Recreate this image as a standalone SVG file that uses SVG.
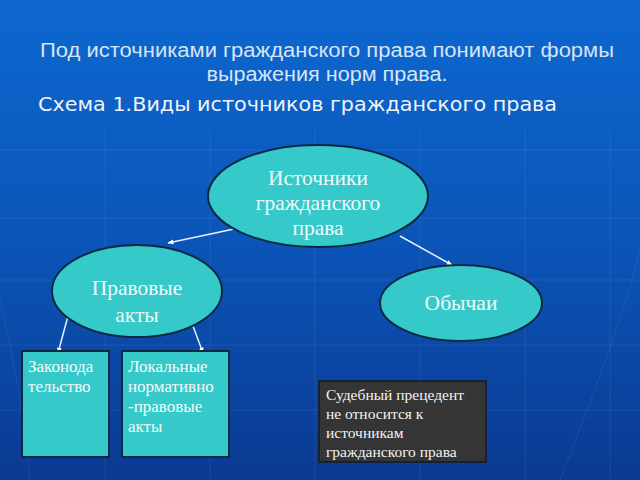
<svg xmlns="http://www.w3.org/2000/svg" width="640" height="480" viewBox="0 0 640 480">
<defs>
<linearGradient id="bg" x1="0" y1="0" x2="0" y2="1">
<stop offset="0" stop-color="#0d68d0"/>
<stop offset="0.5" stop-color="#0b55b8"/>
<stop offset="1" stop-color="#0a3a92"/>
</linearGradient>
<marker id="ah" viewBox="0 0 10 10" refX="9" refY="5" markerWidth="4" markerHeight="4" orient="auto">
<path d="M0,1 L10,5 L0,9 z" fill="#ffffff"/>
</marker>
<style>
.title{font-family:"Liberation Sans",Arial,sans-serif;fill:#d6e4f4;font-size:20px;}
.scheme{font-family:"DejaVu Sans",Verdana,sans-serif;fill:#f0f4fa;font-size:19px;}
.node{fill:#35c9c9;stroke:#0a2a44;stroke-width:2;}
.lbl{font-family:"Liberation Serif","Times New Roman",serif;fill:#eefafa;font-size:21.5px;text-anchor:middle;}
.box{fill:#35c9c9;stroke:#0a2a44;stroke-width:2;}
.btxt{font-family:"Liberation Serif","Times New Roman",serif;fill:#f4fbfb;font-size:17px;}
.dark{fill:#353535;stroke:#1a1a1a;stroke-width:1.5;}
.dtxt{font-family:"Liberation Serif","Times New Roman",serif;fill:#f2f2f2;font-size:15.5px;}
.con{stroke:#e8f0ff;stroke-width:1.5;fill:none;marker-end:url(#ah);}
.grid{stroke:#ffffff;stroke-opacity:0.07;stroke-width:1;fill:none;}
</style>
</defs>
<rect width="640" height="480" fill="url(#bg)"/>
<g class="grid">
<path d="M0 150 H640 M0 218 H640 M0 280 H640 M0 345 H640 M0 410 H640"/>
<path d="M105 130 V480 M210 130 V480 M315 130 V480 M420 130 V480 M525 130 V480 M610 130 V480"/>
<path d="M560 480 Q620 330 640 250"/>
<path d="M0 300 Q20 380 30 480"/>
</g>
<g id="header">
<text class="title" x="327" y="57" text-anchor="middle" textLength="574" lengthAdjust="spacingAndGlyphs">Под источниками гражданского права понимают формы</text>
<text class="title" x="327" y="81" text-anchor="middle" textLength="241" lengthAdjust="spacingAndGlyphs">выражения норм права.</text>
<text class="scheme" x="38" y="111" textLength="519" lengthAdjust="spacingAndGlyphs">Схема 1.Виды источников гражданского права</text>
</g>
<g id="connectors">
<line class="con" x1="234" y1="229" x2="168" y2="243"/>
<line class="con" x1="400" y1="236" x2="452" y2="265"/>
<line class="con" x1="68" y1="316" x2="58" y2="353"/>
<line class="con" x1="193" y1="326" x2="203" y2="353"/>
</g>
<g id="n-sources">
<ellipse class="node" cx="318" cy="196" rx="110" ry="51"/>
<text class="lbl" x="318" y="185">Источники</text>
<text class="lbl" x="318" y="210">гражданского</text>
<text class="lbl" x="318" y="235">права</text>
</g>
<g id="n-legal-acts">
<ellipse class="node" cx="137" cy="291" rx="85" ry="46"/>
<text class="lbl" x="137" y="295">Правовые</text>
<text class="lbl" x="137" y="322">акты</text>
</g>
<g id="n-customs">
<ellipse class="node" cx="461" cy="303" rx="81" ry="38"/>
<text class="lbl" x="461" y="310">Обычаи</text>
</g>
<g id="n-legislation">
<rect class="box" x="22" y="351" width="87" height="106"/>
<text class="btxt" x="28" y="372">Законода</text>
<text class="btxt" x="28" y="392">тельство</text>
</g>
<g id="n-local-acts">
<rect class="box" x="122" y="351" width="107" height="106"/>
<text class="btxt" x="128" y="372">Локальные</text>
<text class="btxt" x="128" y="392">нормативно</text>
<text class="btxt" x="128" y="412">-правовые</text>
<text class="btxt" x="128" y="432">акты</text>
</g>
<g id="n-precedent">
<rect class="dark" x="319" y="381" width="167" height="81"/>
<text class="dtxt" x="326" y="400">Судебный прецедент</text>
<text class="dtxt" x="326" y="419">не относится к</text>
<text class="dtxt" x="326" y="438">источникам</text>
<text class="dtxt" x="326" y="457">гражданского права</text>
</g>
</svg>
